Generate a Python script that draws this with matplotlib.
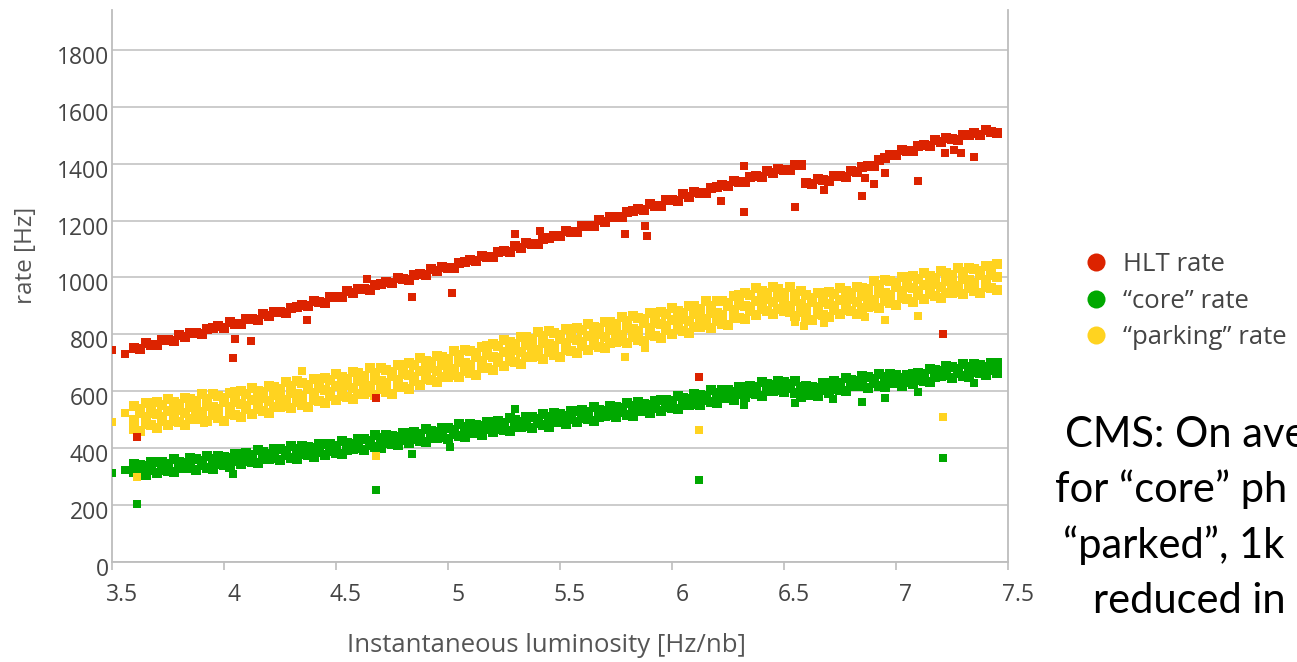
import matplotlib
matplotlib.use("Agg")
import matplotlib.pyplot as plt
import matplotlib.transforms as mtransforms
from matplotlib.lines import Line2D

# luminosity of each lumisection bin [Hz/nb]
lumi = [3.600, 3.625, 3.650, 3.675, 3.700, 3.725, 3.750, 3.775, 3.800, 3.825,
        3.850, 3.875, 3.900, 3.925, 3.950, 3.975, 4.000, 4.025, 4.050, 4.075,
        4.100, 4.125, 4.150, 4.175, 4.200, 4.225, 4.250, 4.275, 4.300, 4.325,
        4.350, 4.375, 4.400, 4.425, 4.450, 4.475, 4.500, 4.525, 4.550, 4.575,
        4.600, 4.625, 4.650, 4.675, 4.700, 4.725, 4.750, 4.775, 4.800, 4.825,
        4.850, 4.875, 4.900, 4.925, 4.950, 4.975, 5.000, 5.025, 5.050, 5.075,
        5.100, 5.125, 5.150, 5.175, 5.200, 5.225, 5.250, 5.275, 5.300, 5.325,
        5.350, 5.375, 5.400, 5.425, 5.450, 5.475, 5.500, 5.525, 5.550, 5.575,
        5.600, 5.625, 5.650, 5.675, 5.700, 5.725, 5.750, 5.775, 5.800, 5.825,
        5.850, 5.875, 5.900, 5.925, 5.950, 5.975, 6.000, 6.025, 6.050, 6.075,
        6.100, 6.125, 6.150, 6.175, 6.200, 6.225, 6.250, 6.275, 6.300, 6.325,
        6.350, 6.375, 6.400, 6.425, 6.450, 6.475, 6.500, 6.525, 6.550, 6.575,
        6.600, 6.625, 6.650, 6.675, 6.700, 6.725, 6.750, 6.775, 6.800, 6.825,
        6.850, 6.875, 6.900, 6.925, 6.950, 6.975, 7.000, 7.025, 7.050, 7.075,
        7.100, 7.125, 7.150, 7.175, 7.200, 7.225, 7.250, 7.275, 7.300, 7.325,
        7.350, 7.375, 7.400, 7.425, 7.450]

# HLT rate [Hz]
hlt = [753, 749, 768, 763, 761, 780, 781, 778, 799, 791,
       806, 804, 802, 819, 822, 828, 824, 843, 838, 835,
       854, 855, 852, 872, 864, 879, 878, 876, 893, 896,
       903, 899, 918, 914, 912, 932, 933, 931, 953, 945,
       961, 959, 957, 974, 977, 983, 979, 998, 993, 991,
       1010, 1011, 1008, 1029, 1021, 1036, 1034, 1033, 1050, 1054,
       1061, 1057, 1077, 1072, 1071, 1091, 1092, 1090, 1111, 1104,
       1120, 1118, 1117, 1135, 1140, 1147, 1144, 1164, 1161, 1160,
       1180, 1182, 1181, 1203, 1196, 1212, 1212, 1211, 1229, 1233,
       1240, 1237, 1257, 1252, 1251, 1271, 1273, 1270, 1292, 1284,
       1300, 1298, 1296, 1314, 1317, 1324, 1320, 1340, 1336, 1334,
       1354, 1355, 1353, 1374, 1366, 1381, 1379, 1377, 1394, 1397,
       1333, 1328, 1347, 1341, 1339, 1357, 1357, 1354, 1374, 1370,
       1389, 1390, 1392, 1413, 1420, 1429, 1429, 1449, 1444, 1443,
       1463, 1464, 1462, 1483, 1476, 1490, 1487, 1483, 1499, 1501,
       1506, 1501, 1518, 1512, 1509]

# "core" rate [Hz], lower and upper edge of the band
core_lo = [315, 313, 307, 325, 314, 325, 320, 315, 329, 329,
           332, 325, 341, 332, 327, 343, 341, 335, 354, 343,
           356, 351, 347, 361, 362, 365, 359, 375, 367, 362,
           378, 376, 370, 388, 377, 389, 384, 380, 395, 396,
           400, 394, 411, 404, 400, 417, 416, 410, 429, 418,
           431, 426, 422, 436, 437, 440, 434, 450, 443, 438,
           455, 453, 448, 466, 456, 468, 464, 459, 474, 474,
           478, 471, 488, 480, 476, 492, 491, 485, 504, 493,
           506, 501, 497, 511, 512, 515, 509, 526, 518, 514,
           530, 529, 524, 542, 532, 544, 540, 536, 552, 553,
           557, 551, 569, 562, 558, 575, 575, 570, 589, 580,
           593, 589, 585, 601, 602, 604, 596, 611, 594, 581,
           588, 588, 584, 603, 594, 608, 605, 601, 617, 617,
           620, 612, 628, 620, 615, 630, 628, 618, 632, 624,
           638, 636, 634, 650, 653, 656, 648, 664, 655, 650,
           666, 663, 657, 674, 663]
core_hi = [346, 341, 336, 350, 350, 352, 345, 361, 353, 348,
           364, 362, 356, 373, 362, 374, 369, 364, 379, 379,
           383, 376, 393, 385, 381, 397, 396, 390, 408, 397,
           409, 404, 399, 413, 413, 416, 409, 426, 419, 415,
           432, 431, 426, 445, 435, 448, 444, 439, 454, 454,
           458, 451, 468, 460, 456, 472, 471, 465, 484, 473,
           486, 481, 477, 491, 492, 495, 489, 505, 498, 493,
           510, 508, 503, 521, 511, 523, 519, 514, 529, 529,
           533, 526, 543, 535, 531, 547, 546, 541, 559, 549,
           561, 557, 553, 567, 568, 571, 565, 582, 576, 572,
           589, 588, 584, 603, 593, 606, 603, 599, 614, 616,
           620, 614, 631, 625, 621, 636, 633, 626, 635, 616,
           619, 616, 613, 628, 630, 635, 630, 647, 641, 636,
           652, 649, 643, 661, 650, 661, 656, 647, 657, 660,
           665, 661, 680, 674, 672, 688, 685, 679, 696, 685,
           697, 691, 686, 699, 699]

# "parking" rate [Hz], lower edge, middle and upper edge of the band
park_lo = [469, 461, 484, 480, 472, 497, 481, 497, 491, 483,
           502, 502, 505, 495, 516, 505, 497, 520, 518, 510,
           536, 520, 537, 532, 525, 545, 545, 549, 541, 563,
           552, 545, 568, 566, 558, 584, 568, 585, 579, 572,
           592, 592, 596, 587, 609, 598, 591, 616, 615, 609,
           637, 623, 642, 638, 631, 651, 650, 656, 649, 672,
           663, 658, 682, 681, 675, 703, 688, 707, 703, 697,
           719, 721, 724, 715, 738, 727, 721, 744, 742, 734,
           760, 745, 762, 757, 751, 771, 772, 777, 769, 791,
           781, 775, 799, 796, 789, 816, 800, 818, 812, 806,
           827, 827, 832, 823, 846, 838, 834, 859, 859, 854,
           883, 869, 889, 881, 872, 890, 883, 880, 864, 879,
           861, 849, 872, 869, 860, 886, 870, 887, 881, 873,
           893, 895, 901, 894, 918, 909, 904, 927, 923, 915,
           940, 924, 941, 934, 927, 946, 946, 950, 941, 962,
           951, 944, 967, 964, 956]
park_mid = [500, 525, 509, 525, 519, 511, 531, 530, 534, 524,
            545, 534, 526, 548, 544, 536, 561, 545, 563, 557,
            550, 570, 570, 575, 566, 588, 577, 570, 594, 591,
            583, 609, 593, 611, 605, 598, 618, 618, 622, 613,
            635, 624, 617, 640, 637, 629, 655, 641, 660, 656,
            651, 673, 675, 681, 672, 694, 682, 677, 702, 700,
            694, 722, 707, 726, 722, 717, 738, 740, 746, 738,
            762, 753, 745, 768, 766, 758, 785, 769, 787, 781,
            774, 795, 795, 800, 792, 814, 804, 798, 822, 819,
            812, 839, 824, 841, 836, 830, 850, 851, 855, 847,
            870, 859, 853, 876, 874, 869, 898, 884, 904, 901,
            897, 919, 922, 924, 913, 933, 915, 901, 917, 907,
            892, 913, 897, 914, 907, 900, 920, 920, 924, 914,
            936, 927, 922, 947, 946, 940, 968, 952, 968, 962,
            954, 974, 974, 977, 968, 989, 978, 971, 994, 990,
            982, 1008, 992, 1009, 1003]
park_hi = [547, 539, 559, 558, 562, 552, 574, 562, 555, 577,
           573, 565, 590, 573, 589, 583, 575, 595, 596, 600,
           591, 613, 602, 596, 619, 616, 608, 634, 619, 636,
           630, 623, 643, 644, 648, 639, 661, 650, 643, 666,
           663, 655, 681, 665, 682, 676, 669, 691, 693, 699,
           692, 716, 707, 702, 725, 722, 713, 741, 727, 745,
           741, 736, 757, 759, 765, 758, 781, 772, 767, 791,
           790, 784, 809, 793, 811, 805, 799, 819, 820, 824,
           815, 838, 827, 821, 845, 842, 835, 862, 847, 864,
           859, 853, 874, 874, 879, 871, 893, 883, 876, 900,
           898, 890, 917, 901, 919, 916, 912, 934, 937, 944,
           938, 962, 954, 945, 966, 961, 946, 965, 942, 952,
           939, 927, 947, 947, 950, 941, 963, 952, 945, 967,
           964, 958, 986, 972, 991, 987, 982, 1002, 1001, 1005,
           995, 1017, 1006, 998, 1021, 1017, 1009, 1035, 1019, 1035,
           1029, 1022, 1042, 1042, 1046]

# isolated lumisections away from the bands
hlt_out_x = [3.50, 3.56, 3.61, 4.04, 4.05, 4.12, 4.37, 4.64, 4.68, 4.84, 5.02,
             5.30, 5.41, 5.79, 5.88, 5.89, 6.12, 6.22, 6.32, 6.32, 6.55, 6.68,
             6.85, 6.86, 6.90, 6.95, 7.10, 7.21, 7.22, 7.26, 7.29, 7.35]
hlt_out_y = [745, 731, 440, 718, 784, 775, 849, 993, 577, 930, 947,
             1151, 1165, 1154, 1180, 1144, 651, 1268, 1390, 1229, 1246, 1306,
             1285, 1351, 1330, 1366, 1338, 802, 1436, 1448, 1439, 1425]
core_out_x = [3.50, 3.56, 3.61, 4.04, 4.68, 4.84, 5.01, 5.30, 6.12, 6.32,
              6.55, 6.72, 6.85, 6.95, 7.10, 7.21, 7.35]
core_out_y = [312, 323, 203, 309, 253, 380, 405, 538, 288, 552,
              560, 572, 562, 576, 597, 365, 630]
park_out_x = [3.50, 3.56, 3.61, 3.91, 4.35, 4.68, 5.79, 5.88, 6.12, 6.55,
              6.59, 6.68, 6.86, 6.95, 7.10, 7.21]
park_out_y = [492, 523, 298, 488, 670, 372, 722, 752, 465, 845,
              831, 841, 860, 850, 866, 510]

labels = ["HLT rate", "\u201ccore\u201d rate", "\u201cparking\u201d rate"]
colors = ["#dc2300", "#00a800", "#ffd320"]

plt.rcParams['font.family'] = ['Open Sans', 'DejaVu Sans']

fig = plt.figure(figsize=(12.97, 6.62), dpi=100)
ax = fig.add_axes([112 / 1297, 1 - 562 / 662, (1008 - 112) / 1297, (562 - 10) / 662])

ms = 46
ax.scatter(lumi, hlt, s=ms, marker='s', c=colors[0], linewidths=0, zorder=3)
ax.scatter(lumi, core_lo, s=ms, marker='s', c=colors[1], linewidths=0, zorder=3)
ax.scatter(lumi, core_hi, s=ms, marker='s', c=colors[1], linewidths=0, zorder=3)
for yy in [park_lo, park_mid, park_hi]:
    ax.scatter(lumi, yy, s=ms, marker='s', c=colors[2], linewidths=0, zorder=3)
ax.scatter(hlt_out_x, hlt_out_y, s=30, marker='s', c=colors[0], linewidths=0, zorder=4)
ax.scatter(core_out_x, core_out_y, s=30, marker='s', c=colors[1], linewidths=0, zorder=4)
ax.scatter(park_out_x, park_out_y, s=30, marker='s', c=colors[2], linewidths=0, zorder=4)

ax.set_xlim(3.5, 7.5)
ax.set_ylim(0, 1940)
ax.set_xticks([3.5, 4, 4.5, 5, 5.5, 6, 6.5, 7, 7.5])
ax.set_xticklabels(["3.5", "4", "4.5", "5", "5.5", "6", "6.5", "7", "7.5"])
ax.set_yticks([0, 200, 400, 600, 800, 1000, 1200, 1400, 1600, 1800])
ax.yaxis.grid(True, color='#c8c8c8', lw=1.3)
ax.set_axisbelow(True)
for s in ['left', 'right', 'bottom']:
    ax.spines[s].set_color('#bdbdbd')
    ax.spines[s].set_linewidth(1.3)
ax.spines['top'].set_visible(False)
ax.tick_params(axis='x', length=6, width=1.2, color='#bdbdbd', labelsize=16.5,
               labelcolor='#444444', pad=9)
ax.tick_params(axis='y', length=0, labelsize=16.5, labelcolor='#444444', pad=2)

dx = mtransforms.ScaledTranslation(10 / 100, 0, fig.dpi_scale_trans)
for lab in ax.get_xticklabels():
    lab.set_transform(lab.get_transform() + dx)
dy = mtransforms.ScaledTranslation(0, -5 / 100, fig.dpi_scale_trans)
for lab in ax.get_yticklabels():
    lab.set_transform(lab.get_transform() + dy)

ax.set_xlabel("Instantaneous luminosity [Hz/nb]", fontsize=18.5, color='#555555')
ax.xaxis.set_label_coords(0.485, -0.128)
ax.set_ylabel("rate [Hz]", fontsize=17.5, color='#555555')
ax.yaxis.set_label_coords(-0.083, 0.556)

handles = [Line2D([], [], ls='none', marker='o', ms=13, mec='none', mfc=c) for c in colors]
fig.legend(handles, labels, loc='center left', bbox_to_anchor=(1073 / 1297, 1 - 301 / 662),
           frameon=False, fontsize=18.5, labelcolor='#444444', handletextpad=0.55,
           labelspacing=0.46, handlelength=1.0, borderaxespad=0)

# slide text, clipped at the right edge of the slide
note = ["CMS: On ave", "for \u201ccore\u201d ph", "\u201cparked\u201d, 1k", "reduced in"]
note_x = [1065, 1055, 1063, 1093]
note_y = [447, 502, 558, 613]
for t, x, y in zip(note, note_x, note_y):
    fig.text(x / 1297, 1 - y / 662, t, fontsize=30, color='black', ha='left', va='baseline',
             family=['Lato', 'DejaVu Sans'])

fig.savefig("out.png", dpi=100)
